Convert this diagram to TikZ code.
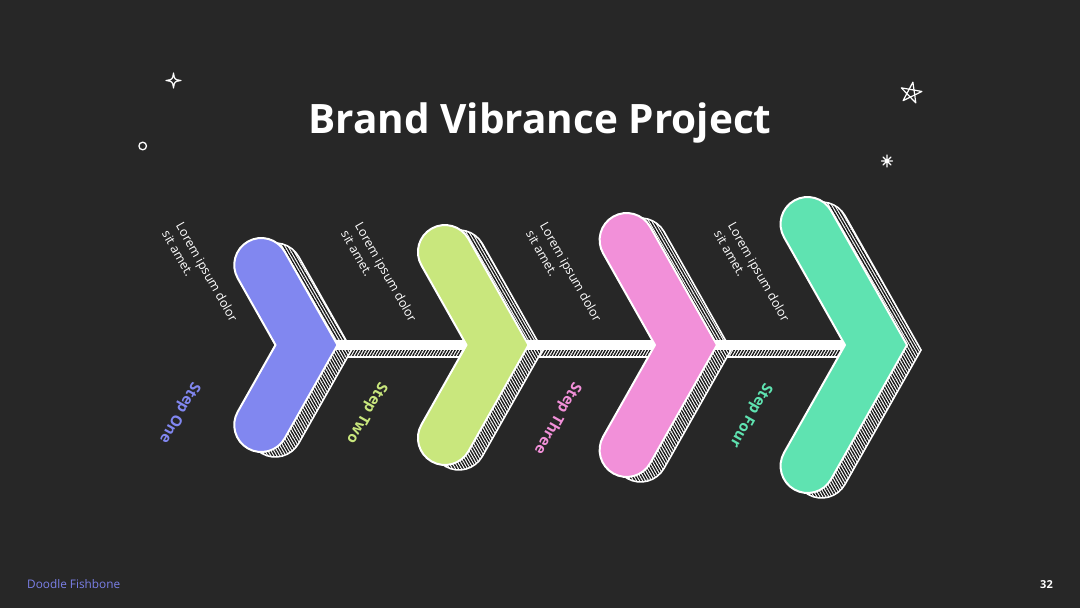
\documentclass[tikz,border=0pt]{standalone}
\usepackage{fontspec}
\setmainfont{Open Sans}
\usetikzlibrary{patterns.meta}
\definecolor{bg}{RGB}{39,39,39}
\definecolor{cpurple}{RGB}{129,135,240}
\definecolor{clime}{RGB}{201,231,125}
\definecolor{cpink}{RGB}{242,144,217}
\definecolor{cmint}{RGB}{95,227,177}
\definecolor{cfoot}{RGB}{123,128,232}
\def\hh{27}\def\sn{0.8704}\def\cs{0.4924}
\tikzset{
  chev/.style 2 args={insert path={({#1+\hh/\sn},345) -- ({#1-#2*\cs+\hh*\sn},{345-#2*\sn-\hh*\cs}) arc[start angle=-29.5, end angle=-209.5, radius=\hh] -- ({#1-\hh/\sn},345) -- ({#1-#2*\cs-\hh*\sn},{345+#2*\sn-\hh*\cs}) arc[start angle=209.5, end angle=29.5, radius=\hh] -- cycle}},
  shadowfill/.style={preaction={fill=white}, pattern={Lines[angle=-60,distance=2.6pt,line width=1.4pt]}, pattern color=black!90, draw=white, line width=1.6},
  mainchev/.style={draw=white, line width=2},
  lorem/.style={text=white, font=\fontsize{12.5}{16}\selectfont, rotate=-60.5, align=left, inner sep=0pt, anchor=north west},
  steplbl/.style={font=\bfseries\fontsize{15}{17}\selectfont, rotate=-119.5, inner sep=0pt, anchor=west},
  doodle/.style={draw=white, line width=1.2, line join=round, line cap=round}
}
\begin{document}
\begin{tikzpicture}[x=1pt,y=-1pt]
\fill[bg] (0,0) rectangle (1080,608);
\useasboundingbox (0,0) rectangle (1080,608);
% title
\node[anchor=base, text=white, font=\bfseries\fontsize{40.5}{46}\selectfont] (title) at (540,133) {Brand Vibrance Project};
% spine shadow
\path[shadowfill, pattern={Lines[angle=60,distance=2.6pt,line width=1.4pt]}] (320,348) rectangle (880,357);
% chevron shadows
\begin{scope}[shift={(14,5)}]
\path[shadowfill, chev={306.5}{91.9}];
\path[shadowfill, chev={497.5}{106.8}];
\path[shadowfill, chev={686}{120.6}];
\path[shadowfill, chev={876}{139}];
\end{scope}
% spine
\fill[white] (306.5,340) rectangle (876,350);
% chevrons
\path[mainchev, fill=cpurple, chev={306.5}{91.9}];
\path[mainchev, fill=clime, chev={497.5}{106.8}];
\path[mainchev, fill=cpink, chev={686}{120.6}];
\path[mainchev, fill=cmint, chev={876}{139}];
% lorem texts
\node[lorem] (l1) at (184,221) {Lorem ipsum dolor\\sit amet.};
\node[lorem] (l2) at (363,221) {Lorem ipsum dolor\\sit amet.};
\node[lorem] (l3) at (548,221) {Lorem ipsum dolor\\sit amet.};
\node[lorem] (l4) at (736,221) {Lorem ipsum dolor\\sit amet.};
% step labels
\node[steplbl, text=cpurple] (s1) at (196,383) {Step One};
\node[steplbl, text=clime] (s2) at (383,383) {Step Two};
\node[steplbl, text=cpink] (s3) at (577,383) {Step Three};
\node[steplbl, text=cmint] (s4) at (768,384) {Step Four};
% doodles
\draw[doodle] (173.5,73) .. controls (174.5,79.5) .. (181,80.5) .. controls (174.5,81.5) .. (173.5,88) .. controls (172.5,81.5) .. (166,80.5) .. controls (172.5,79.5) .. (173.5,73) -- cycle;
\draw[doodle, line width=1.3] (142.7,146) circle[radius=3.8];
\begin{scope}[shift={(911,93)}]
\draw[doodle] (-80:11) -- (64:11) -- (208:11) -- (352:11) -- (136:11) -- cycle;
\end{scope}
\begin{scope}[shift={(887,161)}]
\draw[doodle, line width=1.4] (90:6) -- (270:6) (0:5.5) -- (180:5.5) (45:5.5) -- (225:5.5) (135:5.5) -- (315:5.5);
\end{scope}
% footer
\node[anchor=base west, text=cfoot, font=\fontsize{11.8}{14}\selectfont, inner sep=0pt] (foot) at (27,588) {Doodle Fishbone};
\node[anchor=base, text=white, font=\bfseries\fontsize{11}{13}\selectfont, inner sep=0pt] (pg) at (1046.5,588) {32};
\end{tikzpicture}
\end{document}
